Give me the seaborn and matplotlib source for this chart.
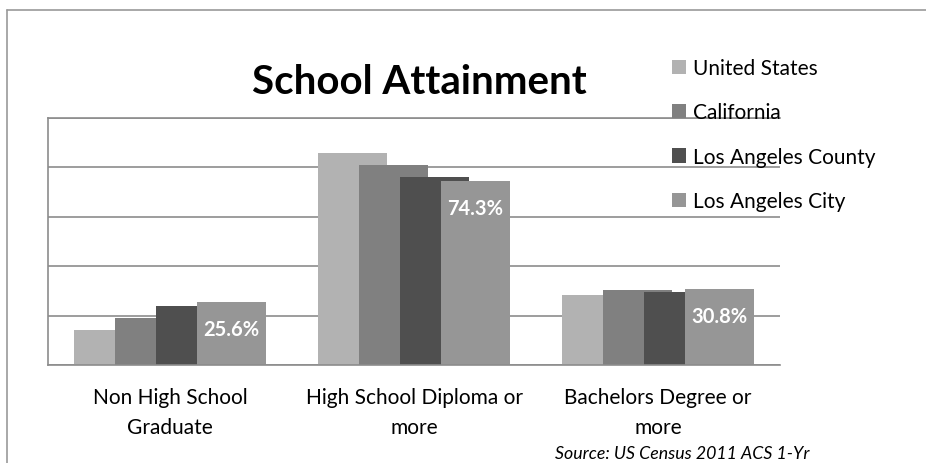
import numpy as np
import pandas as pd
import seaborn as sns
import matplotlib.pyplot as plt
from matplotlib.patches import Patch
from matplotlib.lines import Line2D

# ---- data ----
categories = ["Non High School\nGraduate", "High School Diploma or\nmore", "Bachelors Degree or\nmore"]
regions = ["United States", "California", "Los Angeles County", "Los Angeles City"]
united_states = [14.2, 85.8, 28.5]
california = [18.9, 81.1, 30.4]
la_county = [23.9, 76.2, 29.4]
la_city = [25.6, 74.3, 30.8]
colors = ["#b2b2b2", "#808080", "#4f4f4f", "#969696"]

rows = []
for reg, vals in zip(regions, [united_states, california, la_county, la_city]):
    for cat, v in zip(categories, vals):
        rows.append({"category": cat, "region": reg, "value": v})
df = pd.DataFrame(rows)

sns.set_style("white")
plt.rcParams["font.family"] = ["Lato", "DejaVu Sans"]
plt.rcParams["text.color"] = "black"
plt.rcParams["xtick.color"] = "black"

W, H = 926, 464
fig = plt.figure(figsize=(W / 100, H / 100), dpi=100)
ax = fig.add_axes([48 / W, 1 - 366 / H, (780 - 48) / W, (366 - 119) / H])

sns.barplot(data=df, x="category", y="value", hue="region", order=categories,
            hue_order=regions, palette=colors, width=0.672, saturation=1,
            ax=ax, legend=False, errorbar=None, linewidth=0)

# overlapping (wider) bars, like the source chart
bw = 0.279
for p in ax.patches:
    cx = p.get_x() + p.get_width() / 2
    p.set_width(bw)
    p.set_x(cx - bw / 2)

ax.set_xlim(-0.5, 2.5)
ax.set_ylim(0, 100)
ax.set_yticks([0, 20, 40, 60, 80, 100])
ax.set_yticklabels([])
ax.tick_params(axis="y", length=0)
ax.tick_params(axis="x", length=0, pad=16, labelsize=15, labelcolor="black")
for lbl in ax.get_xticklabels():
    lbl.set_linespacing(1.6)
ax.set_xlabel("")
ax.set_ylabel("")
ax.set_axisbelow(True)
ax.yaxis.grid(True, color="#8c8c8c", linewidth=1.2)
for side in ["left", "bottom", "top"]:
    ax.spines[side].set_visible(True)
    ax.spines[side].set_color("#8c8c8c")
    ax.spines[side].set_linewidth(1.2)
ax.spines["right"].set_visible(False)

# data labels for Los Angeles City
offs = 0.252
for i, v in enumerate(la_city):
    ax.annotate(f"{v}%", xy=(i + offs, v), xytext=(0, -27), textcoords="offset pixels",
                ha="center", va="center", color="white", fontsize=14.5, fontweight="bold")

# title
fig.text(419 / W, 1 - 83 / H, "School Attainment", ha="center", va="center",
         fontsize=29, fontweight="bold", color="black")

# legend
handles = [Patch(facecolor=c, edgecolor="none") for c in colors]
leg = fig.legend(handles, regions, loc="upper left", bbox_to_anchor=(672 / W, 1 - 59 / H),
                 bbox_transform=fig.transFigure, frameon=False, fontsize=15,
                 handlelength=0.67, handleheight=0.67, handletextpad=0.35,
                 labelspacing=1.17, borderpad=0, borderaxespad=0)
for t in leg.get_texts():
    t.set_color("black")

# source
fig.text(555 / W, 1 - 459 / H, "Source: US Census 2011 ACS 1-Yr", ha="left", va="baseline",
         fontsize=12.8, fontstyle="italic", color="black")

# outer frame (left and top edges)
fig.add_artist(Line2D([7 / W, 7 / W], [0, 1 - 11 / H], transform=fig.transFigure,
                      color="#999999", linewidth=1.2))
fig.add_artist(Line2D([7 / W, 1], [1 - 11 / H, 1 - 11 / H], transform=fig.transFigure,
                      color="#999999", linewidth=1.2))

fig.savefig("out.png", dpi=100)
